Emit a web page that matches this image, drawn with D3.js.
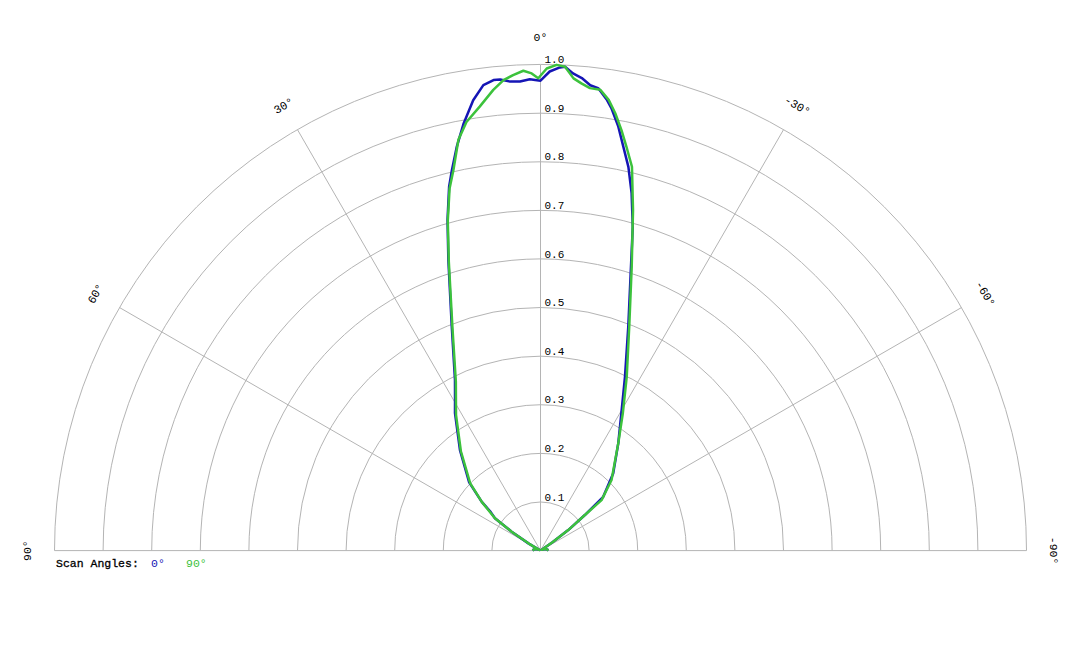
<!DOCTYPE html>
<html>
<head>
<meta charset="utf-8">
<script src="https://cdn.jsdelivr.net/npm/d3@7"></script>
<style>
  body { margin: 0; background: #fff; }
  svg { display: block; }
  text { font-family: "Liberation Mono", "Courier New", monospace; }
</style>
</head>
<body>
<svg id="chart" width="1080" height="648"></svg>
<script>
// scan 0 deg (blue) - angle in degrees (positive = left), relative intensity
var scan0Angles = [90, 80, 72, 65, 60, 59.1, 56.7, 54.6, 52.2, 50.3, 46.3, 38.7, 31.9, 29.6, 26.6, 21.6, 17.6, 15.7, 14.1, 13.1, 11.7, 10.2, 8.5, 7.0, 5.7, 4.9, 3.7, 2.5, 1.3, 0,
  -1.1, -2.3, -2.9, -3.9, -5.0, -6.1, -7.1, -8.4, -9.1, -10.4, -11.6, -12.9, -14.3, -15.9, -18.2, -21.4, -25.9, -30.0, -35.9, -43.3, -49.4, -51.3, -53.5, -55, -58, -65, -72, -80, -90];
var scan0Values = [0.016, 0.014, 0.01, 0.005, 0.003, 0.029, 0.071, 0.115, 0.130, 0.157, 0.203, 0.265, 0.333, 0.356, 0.393, 0.496, 0.627, 0.707, 0.772, 0.804, 0.849, 0.893, 0.937, 0.965, 0.973, 0.973, 0.967, 0.966, 0.970, 0.967,
  0.986, 0.995, 0.997, 0.984, 0.976, 0.963, 0.959, 0.937, 0.922, 0.887, 0.848, 0.810, 0.759, 0.693, 0.593, 0.495, 0.398, 0.334, 0.273, 0.218, 0.170, 0.117, 0.071, 0.030, 0.003, 0.005, 0.01, 0.014, 0.016];

// scan 90 deg (green)
var scan90Angles = [90, 80, 72, 65, 60, 59, 56.7, 54.6, 50.3, 46.3, 38.7, 31.9, 26.6, 21.6, 17.6, 15.7, 14.1, 12.9, 11.3, 9.8, 7.8, 5.85, 4.5, 3.3, 2.05, 1.06, 0.27,
  -0.74, -1.9, -2.9, -4.0, -5.0, -6.1, -7.4, -8.6, -9.7, -10.9, -12.0, -13.4, -15.2, -17.8, -21.6, -26.4, -30.9, -35.9, -45.2, -50.4, -51.3, -53.5, -55, -58, -65, -72, -80, -90];
var scan90Values = [0.016, 0.014, 0.01, 0.005, 0.003, 0.029, 0.071, 0.115, 0.157, 0.200, 0.262, 0.329, 0.389, 0.492, 0.624, 0.705, 0.768, 0.803, 0.862, 0.895, 0.922, 0.953, 0.971, 0.980, 0.988, 0.982, 0.972,
  0.992, 1.000, 0.997, 0.974, 0.965, 0.957, 0.956, 0.938, 0.913, 0.881, 0.850, 0.812, 0.726, 0.614, 0.496, 0.399, 0.330, 0.273, 0.206, 0.163, 0.117, 0.071, 0.030, 0.003, 0.005, 0.01, 0.014, 0.016];

var ringTicks = [0.1, 0.2, 0.3, 0.4, 0.5, 0.6, 0.7, 0.8, 0.9, 1.0];
var spokeAngles = [90, 60, 30, 0, -30, -60, -90];
var legendLabels = ['0°', '90°'];
var seriesColors = ['#1515b5', '#3cc23c'];

function Draw() {
    var svg = d3.select('#chart');
    var cx = 540.5, cy = 550.6, R = 486;

    var r = d3.scaleLinear().domain([0, 1]).range([0, R]);
    // left is positive, lineRadial angle runs clockwise from the top
    var a = d3.scaleLinear().domain([-90, 90]).range([Math.PI / 2, -Math.PI / 2]);

    var g = svg.append('g').attr('transform', 'translate(' + cx + ',' + cy + ')');

    // rings
    g.selectAll('path.ring').data(ringTicks).enter().append('path')
        .attr('class', 'ring')
        .attr('d', function(d) {
            var p = d3.path();
            p.arc(0, 0, r(d), Math.PI, 2 * Math.PI, false);
            return p.toString();
        })
        .attr('fill', 'none').attr('stroke', '#b4b4b4').attr('stroke-width', 1);

    // spokes
    g.selectAll('line.spoke').data(spokeAngles).enter().append('line')
        .attr('class', 'spoke')
        .attr('x1', 0).attr('y1', 0)
        .attr('x2', function(d) { return r(1) * Math.sin(a(d)); })
        .attr('y2', function(d) { return -r(1) * Math.cos(a(d)); })
        .attr('stroke', '#b4b4b4').attr('stroke-width', 1);

    // ring labels
    g.selectAll('text.tick').data(ringTicks).enter().append('text')
        .attr('class', 'tick')
        .attr('x', 4)
        .attr('y', function(d) { return -r(d) - 1.5; })
        .attr('font-size', '11px').attr('fill', '#000')
        .text(function(d) { return d3.format('.1f')(d); });

    // angle labels
    g.selectAll('text.ang').data(spokeAngles).enter().append('text')
        .attr('class', 'ang')
        .attr('transform', function(d) {
            var x = 513 * Math.sin(a(d)), y = -513 * Math.cos(a(d));
            return 'translate(' + x + ',' + y + ') rotate(' + (-d) + ')';
        })
        .attr('text-anchor', 'middle').attr('dominant-baseline', 'middle')
        .attr('font-size', '11.5px').attr('fill', '#000')
        .text(function(d) { return d + '°'; });

    // curves
    var line = d3.lineRadial()
        .angle(function(d) { return a(d[0]); })
        .radius(function(d) { return r(d[1]); });

    var series = [d3.zip(scan0Angles, scan0Values), d3.zip(scan90Angles, scan90Values)];
    g.selectAll('path.scan').data(series).enter().append('path')
        .attr('class', 'scan')
        .attr('d', line)
        .attr('fill', 'none')
        .attr('stroke', function(d, i) { return seriesColors[i]; })
        .attr('stroke-width', 2.5)
        .attr('stroke-linejoin', 'round');

    // legend
    svg.append('text').attr('x', 56).attr('y', 567)
        .attr('font-size', '11.5px').attr('fill', '#000')
        .attr('stroke', '#000').attr('stroke-width', 0.3)
        .text('Scan Angles:');
    var legX = [151, 186];
    svg.selectAll('text.leg').data(legendLabels).enter().append('text')
        .attr('class', 'leg')
        .attr('x', function(d, i) { return legX[i]; }).attr('y', 567)
        .attr('font-size', '11.5px')
        .attr('fill', function(d, i) { return seriesColors[i]; })
        .text(function(d) { return d; });
}

Draw();
</script>
</body>
</html>
